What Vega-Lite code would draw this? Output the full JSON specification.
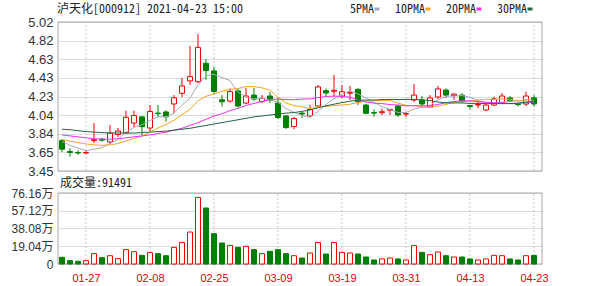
{
"$schema": "https://vega.github.io/schema/vega-lite/v6.json",
"width": 484, "height": 242,
"autosize": {"type": "none"},
"padding": {"left": 58, "top": 22, "right": 58, "bottom": 22},
"background": "white",
"config": {"view": {"stroke": null}, "font": "Liberation Sans"},
"data": {"values": [
{"date":"2021-01-22","open":3.77,"high":3.785,"low":3.65,"close":3.68,"volume":72000,"5PMA":3.76,"10PMA":3.78,"20PMA":3.83,"30PMA":3.89},
{"date":"2021-01-25","open":3.655,"high":3.69,"low":3.60,"close":3.645,"volume":36000,"5PMA":3.72,"10PMA":3.765,"20PMA":3.82,"30PMA":3.885},
{"date":"2021-01-26","open":3.645,"high":3.67,"low":3.62,"close":3.64,"volume":29000,"5PMA":3.69,"10PMA":3.75,"20PMA":3.81,"30PMA":3.875},
{"date":"2021-01-27","open":3.64,"high":3.67,"low":3.63,"close":3.645,"volume":36000,"5PMA":3.665,"10PMA":3.735,"20PMA":3.80,"30PMA":3.865},
{"date":"2021-01-28","open":3.77,"high":3.956,"low":3.745,"close":3.78,"volume":111000,"5PMA":3.679,"10PMA":3.725,"20PMA":3.79,"30PMA":3.86},
{"date":"2021-01-29","open":3.785,"high":3.80,"low":3.76,"close":3.775,"volume":68000,"5PMA":3.697,"10PMA":3.72,"20PMA":3.785,"30PMA":3.855},
{"date":"2021-02-01","open":3.756,"high":3.935,"low":3.735,"close":3.85,"volume":89000,"5PMA":3.739,"10PMA":3.725,"20PMA":3.785,"30PMA":3.85},
{"date":"2021-02-02","open":3.835,"high":3.903,"low":3.808,"close":3.871,"volume":57000,"5PMA":3.785,"10PMA":3.74,"20PMA":3.79,"30PMA":3.85},
{"date":"2021-02-03","open":3.853,"high":4.085,"low":3.84,"close":4.016,"volume":154000,"5PMA":3.859,"10PMA":3.765,"20PMA":3.80,"30PMA":3.85},
{"date":"2021-02-04","open":3.956,"high":4.085,"low":3.914,"close":4.035,"volume":132000,"5PMA":3.910,"10PMA":3.795,"20PMA":3.81,"30PMA":3.85},
{"date":"2021-02-05","open":4.02,"high":4.03,"low":3.83,"close":3.917,"volume":93000,"5PMA":3.938,"10PMA":3.817,"20PMA":3.82,"30PMA":3.855},
{"date":"2021-02-08","open":3.903,"high":4.145,"low":3.87,"close":4.077,"volume":122000,"5PMA":3.983,"10PMA":3.861,"20PMA":3.83,"30PMA":3.86},
{"date":"2021-02-09","open":4.06,"high":4.145,"low":4.02,"close":4.055,"volume":111000,"5PMA":4.02,"10PMA":3.903,"20PMA":3.845,"30PMA":3.865},
{"date":"2021-02-10","open":4.072,"high":4.09,"low":3.97,"close":4.022,"volume":89000,"5PMA":4.021,"10PMA":3.940,"20PMA":3.86,"30PMA":3.87},
{"date":"2021-02-18","open":4.156,"high":4.25,"low":4.06,"close":4.222,"volume":179000,"5PMA":4.059,"10PMA":3.985,"20PMA":3.88,"30PMA":3.88},
{"date":"2021-02-19","open":4.269,"high":4.43,"low":4.23,"close":4.346,"volume":232000,"5PMA":4.144,"10PMA":4.041,"20PMA":3.90,"30PMA":3.89},
{"date":"2021-02-22","open":4.40,"high":4.767,"low":4.356,"close":4.444,"volume":343000,"5PMA":4.218,"10PMA":4.101,"20PMA":3.93,"30PMA":3.90},
{"date":"2021-02-23","open":4.391,"high":4.894,"low":4.377,"close":4.753,"volume":715000,"5PMA":4.357,"10PMA":4.189,"20PMA":3.96,"30PMA":3.915},
{"date":"2021-02-24","open":4.585,"high":4.63,"low":4.41,"close":4.509,"volume":601000,"5PMA":4.455,"10PMA":4.238,"20PMA":3.995,"30PMA":3.93},
{"date":"2021-02-25","open":4.504,"high":4.546,"low":4.26,"close":4.288,"volume":325000,"5PMA":4.468,"10PMA":4.263,"20PMA":4.029,"30PMA":3.945},
{"date":"2021-02-26","open":4.20,"high":4.25,"low":4.13,"close":4.18,"volume":225000,"5PMA":4.435,"10PMA":4.290,"20PMA":4.054,"30PMA":3.96},
{"date":"2021-03-01","open":4.187,"high":4.32,"low":4.17,"close":4.287,"volume":200000,"5PMA":4.403,"10PMA":4.311,"20PMA":4.086,"30PMA":3.975},
{"date":"2021-03-02","open":4.293,"high":4.32,"low":4.12,"close":4.135,"volume":179000,"5PMA":4.280,"10PMA":4.319,"20PMA":4.111,"30PMA":3.99},
{"date":"2021-03-03","open":4.166,"high":4.325,"low":4.156,"close":4.24,"volume":190000,"5PMA":4.226,"10PMA":4.340,"20PMA":4.140,"30PMA":4.005},
{"date":"2021-03-04","open":4.25,"high":4.325,"low":4.19,"close":4.208,"volume":154000,"5PMA":4.21,"10PMA":4.339,"20PMA":4.162,"30PMA":4.02},
{"date":"2021-03-05","open":4.182,"high":4.25,"low":4.166,"close":4.214,"volume":111000,"5PMA":4.217,"10PMA":4.326,"20PMA":4.183,"30PMA":4.03},
{"date":"2021-03-08","open":4.24,"high":4.283,"low":4.166,"close":4.198,"volume":136000,"5PMA":4.199,"10PMA":4.301,"20PMA":4.201,"30PMA":4.04},
{"date":"2021-03-09","open":4.166,"high":4.22,"low":3.998,"close":4.014,"volume":154000,"5PMA":4.175,"10PMA":4.227,"20PMA":4.208,"30PMA":4.05},
{"date":"2021-03-10","open":4.03,"high":4.04,"low":3.893,"close":3.908,"volume":111000,"5PMA":4.108,"10PMA":4.167,"20PMA":4.203,"30PMA":4.06},
{"date":"2021-03-11","open":3.919,"high":4.022,"low":3.89,"close":4.003,"volume":89000,"5PMA":4.067,"10PMA":4.139,"20PMA":4.201,"30PMA":4.066},
{"date":"2021-03-12","open":4.06,"high":4.075,"low":4.005,"close":4.05,"volume":64000,"5PMA":4.035,"10PMA":4.126,"20PMA":4.208,"30PMA":4.078},
{"date":"2021-03-15","open":4.03,"high":4.145,"low":4.02,"close":4.098,"volume":118000,"5PMA":4.015,"10PMA":4.107,"20PMA":4.209,"30PMA":4.093},
{"date":"2021-03-16","open":4.135,"high":4.356,"low":4.125,"close":4.336,"volume":232000,"5PMA":4.079,"10PMA":4.127,"20PMA":4.223,"30PMA":4.116},
{"date":"2021-03-17","open":4.296,"high":4.32,"low":4.235,"close":4.272,"volume":107000,"5PMA":4.152,"10PMA":4.130,"20PMA":4.235,"30PMA":4.137},
{"date":"2021-03-18","open":4.29,"high":4.462,"low":4.235,"close":4.30,"volume":232000,"5PMA":4.211,"10PMA":4.139,"20PMA":4.239,"30PMA":4.154},
{"date":"2021-03-19","open":4.24,"high":4.356,"low":4.216,"close":4.285,"volume":125000,"5PMA":4.258,"10PMA":4.146,"20PMA":4.236,"30PMA":4.171},
{"date":"2021-03-22","open":4.27,"high":4.346,"low":4.198,"close":4.275,"volume":118000,"5PMA":4.294,"10PMA":4.154,"20PMA":4.228,"30PMA":4.185},
{"date":"2021-03-23","open":4.311,"high":4.32,"low":4.145,"close":4.18,"volume":107000,"5PMA":4.262,"10PMA":4.171,"20PMA":4.199,"30PMA":4.196},
{"date":"2021-03-24","open":4.145,"high":4.16,"low":4.047,"close":4.058,"volume":75000,"5PMA":4.220,"10PMA":4.186,"20PMA":4.176,"30PMA":4.197},
{"date":"2021-03-25","open":4.065,"high":4.10,"low":4.02,"close":4.06,"volume":43000,"5PMA":4.172,"10PMA":4.191,"20PMA":4.165,"30PMA":4.198},
{"date":"2021-03-26","open":4.065,"high":4.11,"low":4.04,"close":4.075,"volume":54000,"5PMA":4.130,"10PMA":4.194,"20PMA":4.160,"30PMA":4.203},
{"date":"2021-03-29","open":4.09,"high":4.10,"low":4.04,"close":4.10,"volume":64000,"5PMA":4.095,"10PMA":4.194,"20PMA":4.150,"30PMA":4.204},
{"date":"2021-03-30","open":4.135,"high":4.145,"low":4.02,"close":4.04,"volume":54000,"5PMA":4.067,"10PMA":4.165,"20PMA":4.146,"30PMA":4.203},
{"date":"2021-03-31","open":4.05,"high":4.075,"low":4.02,"close":4.055,"volume":43000,"5PMA":4.066,"10PMA":4.143,"20PMA":4.136,"30PMA":4.204},
{"date":"2021-04-01","open":4.198,"high":4.367,"low":4.177,"close":4.25,"volume":197000,"5PMA":4.104,"10PMA":4.138,"20PMA":4.139,"30PMA":4.205},
{"date":"2021-04-02","open":4.198,"high":4.24,"low":4.135,"close":4.156,"volume":125000,"5PMA":4.120,"10PMA":4.125,"20PMA":4.136,"30PMA":4.199},
{"date":"2021-04-06","open":4.124,"high":4.25,"low":4.114,"close":4.22,"volume":100000,"5PMA":4.144,"10PMA":4.119,"20PMA":4.137,"30PMA":4.192},
{"date":"2021-04-07","open":4.23,"high":4.346,"low":4.209,"close":4.314,"volume":129000,"5PMA":4.199,"10PMA":4.133,"20PMA":4.152,"30PMA":4.177},
{"date":"2021-04-08","open":4.303,"high":4.32,"low":4.22,"close":4.25,"volume":89000,"5PMA":4.238,"10PMA":4.152,"20PMA":4.169,"30PMA":4.168},
{"date":"2021-04-09","open":4.245,"high":4.27,"low":4.20,"close":4.26,"volume":75000,"5PMA":4.24,"10PMA":4.172,"20PMA":4.182,"30PMA":4.167},
{"date":"2021-04-12","open":4.25,"high":4.27,"low":4.166,"close":4.182,"volume":75000,"5PMA":4.245,"10PMA":4.183,"20PMA":4.188,"30PMA":4.167},
{"date":"2021-04-13","open":4.14,"high":4.14,"low":4.10,"close":4.13,"volume":54000,"5PMA":4.227,"10PMA":4.186,"20PMA":4.190,"30PMA":4.162},
{"date":"2021-04-14","open":4.145,"high":4.18,"low":4.11,"close":4.15,"volume":43000,"5PMA":4.194,"10PMA":4.197,"20PMA":4.181,"30PMA":4.163},
{"date":"2021-04-15","open":4.093,"high":4.156,"low":4.08,"close":4.145,"volume":54000,"5PMA":4.173,"10PMA":4.206,"20PMA":4.174,"30PMA":4.160},
{"date":"2021-04-16","open":4.145,"high":4.233,"low":4.135,"close":4.209,"volume":93000,"5PMA":4.163,"10PMA":4.202,"20PMA":4.170,"30PMA":4.160},
{"date":"2021-04-19","open":4.172,"high":4.27,"low":4.166,"close":4.24,"volume":89000,"5PMA":4.175,"10PMA":4.21,"20PMA":4.167,"30PMA":4.160},
{"date":"2021-04-20","open":4.22,"high":4.24,"low":4.177,"close":4.188,"volume":54000,"5PMA":4.186,"10PMA":4.207,"20PMA":4.163,"30PMA":4.160},
{"date":"2021-04-21","open":4.16,"high":4.16,"low":4.13,"close":4.15,"volume":43000,"5PMA":4.186,"10PMA":4.190,"20PMA":4.162,"30PMA":4.165},
{"date":"2021-04-22","open":4.156,"high":4.288,"low":4.135,"close":4.24,"volume":89000,"5PMA":4.205,"10PMA":4.189,"20PMA":4.171,"30PMA":4.176},
{"date":"2021-04-23","open":4.22,"high":4.25,"low":4.13,"close":4.156,"volume":91491,"5PMA":4.195,"10PMA":4.179,"20PMA":4.176,"30PMA":4.181}
]},
"layer": [
{
"layer": [
{"transform": [{"filter": {"field": "date", "oneOf": ["2021-01-27","2021-02-08","2021-02-25","2021-03-09","2021-03-19","2021-03-31","2021-04-13","2021-04-23"]}}],
 "mark": {"type": "rule", "color": "#c4c4c4", "strokeDash": [2, 2], "strokeWidth": 1},
 "encoding": {
  "x": {"field": "date", "type": "ordinal", "title": null, "scale": {"type": "point", "padding": 0.75, "align": 0.3333}, "axis": {"values": ["2021-01-27","2021-02-08","2021-02-25","2021-03-09","2021-03-19","2021-03-31","2021-04-13","2021-04-23"], "labelExpr": "substring(datum.value, 5)", "labelColor": "#e00000", "labelFont": "Liberation Sans", "labelFontSize": 11, "labelPadding": 8, "ticks": false, "domain": false, "grid": false, "labelAngle": 0, "labelOverlap": false}},
  "y": {"datum": 3.45, "type": "quantitative", "title": null, "scale": {"domain": [2.4701, 5.02], "zero": false, "nice": false}, "axis": {"orient": "left", "values": [3.45,3.65,3.84,4.04,4.23,4.43,4.63,4.82,5.02], "tickCount": 30, "format": ".2f", "grid": true, "gridColor": "#dcdcdc", "domain": false, "ticks": false, "labelPadding": 5, "labelFont": "Liberation Sans", "labelFontSize": 13, "labelColor": "#333333", "labelOverlap": false, "labelBound": false}},
  "y2": {"datum": 5.02}
 }},
{"data": {"values": [{"panel": "price"}]},
 "mark": {"type": "rect", "filled": false, "stroke": "#a6a6a6", "strokeWidth": 1},
 "encoding": {
  "y": {"datum": 5.02, "type": "quantitative", "title": null, "scale": {"domain": [2.4701, 5.02], "zero": false, "nice": false}},
  "y2": {"datum": 3.45}
 }},
{"mark": {"type": "rule", "strokeWidth": 1},
 "encoding": {
  "x": {"field": "date", "type": "ordinal", "title": null, "scale": {"type": "point", "padding": 0.75, "align": 0.3333}},
  "y": {"field": "low", "type": "quantitative", "title": null, "scale": {"domain": [2.4701, 5.02], "zero": false, "nice": false}},
  "y2": {"field": "high"},
  "color": {"condition": {"test": "datum.close >= datum.open", "value": "#f00000"}, "value": "#007f00"}
 }},
{"mark": {"type": "bar", "width": 5, "strokeWidth": 1},
 "encoding": {
  "x": {"field": "date", "type": "ordinal", "title": null, "scale": {"type": "point", "padding": 0.75, "align": 0.3333}},
  "y": {"field": "open", "type": "quantitative", "title": null, "scale": {"domain": [2.4701, 5.02], "zero": false, "nice": false}},
  "y2": {"field": "close"},
  "fill": {"condition": {"test": "datum.close >= datum.open", "value": "#ffffff"}, "value": "#007f00"},
  "stroke": {"condition": {"test": "datum.close >= datum.open", "value": "#f00000"}, "value": "#007f00"}
 }},
{"transform": [{"fold": ["5PMA", "10PMA", "20PMA", "30PMA"], "as": ["ma", "value"]}],
 "mark": {"type": "line", "strokeWidth": 1},
 "encoding": {
  "x": {"field": "date", "type": "ordinal", "title": null, "scale": {"type": "point", "padding": 0.75, "align": 0.3333}},
  "y": {"field": "value", "type": "quantitative", "title": null, "scale": {"domain": [2.4701, 5.02], "zero": false, "nice": false}},
  "color": {"field": "ma", "type": "nominal", "scale": {"domain": ["5PMA", "10PMA", "20PMA", "30PMA"], "range": ["#a8a8b8", "#f5a524", "#ee33ee", "#226644"]},
   "legend": {"orient": "none", "legendX": 313, "legendY": -19, "direction": "horizontal", "title": null, "labelAlign": "right", "labelOffset": -9, "symbolType": "stroke", "symbolSize": 25, "symbolStrokeWidth": 3, "labelFont": "Noto Sans Mono CJK SC, Noto Sans CJK SC", "labelFontSize": 12, "labelColor": "#222222", "columnPadding": 8}}
 }},
{"data": {"values": [{"label": "泸天化[000912] 2021-04-23 15:00"}]},
 "mark": {"type": "text", "align": "left", "baseline": "middle", "dx": -5, "font": "Noto Sans Mono CJK SC, Noto Sans CJK SC", "fontSize": 12, "color": "#222222"},
 "encoding": {
  "x": {"datum": "2021-01-22", "type": "ordinal", "title": null, "scale": {"type": "point", "padding": 0.75, "align": 0.3333}},
  "y": {"datum": 5.157, "type": "quantitative", "title": null, "scale": {"domain": [2.4701, 5.02], "zero": false, "nice": false}},
  "text": {"field": "label"}
 }}
]
},
{
"layer": [
{"transform": [{"filter": {"field": "date", "oneOf": ["2021-01-27","2021-02-08","2021-02-25","2021-03-09","2021-03-19","2021-03-31","2021-04-13","2021-04-23"]}}],
 "mark": {"type": "rule", "color": "#c4c4c4", "strokeDash": [2, 2], "strokeWidth": 1},
 "encoding": {
  "x": {"field": "date", "type": "ordinal", "title": null, "scale": {"type": "point", "padding": 0.75, "align": 0.3333}},
  "y": {"datum": 0, "type": "quantitative", "title": null, "scale": {"domain": [0, 2595876], "nice": false}, "axis": {"orient": "left", "values": [0, 190400, 380800, 571200, 761600], "tickCount": 30, "labelExpr": "datum.value == 0 ? '0' : format(datum.value / 10000, '.2f') + '万'", "grid": true, "gridColor": "#dcdcdc", "domain": false, "ticks": false, "labelPadding": 5, "labelFont": "Liberation Sans, Noto Sans CJK SC", "labelFontSize": 12, "labelColor": "#333333", "labelOverlap": false, "labelBound": false}},
  "y2": {"datum": 761600}
 }},
{"data": {"values": [{"panel": "volume"}]},
 "mark": {"type": "rect", "filled": false, "stroke": "#a6a6a6", "strokeWidth": 1},
 "encoding": {
  "y": {"datum": 761600, "type": "quantitative", "title": null, "scale": {"domain": [0, 2595876], "nice": false}},
  "y2": {"datum": 0}
 }},
{"mark": {"type": "bar", "width": 5, "strokeWidth": 1},
 "encoding": {
  "x": {"field": "date", "type": "ordinal", "title": null, "scale": {"type": "point", "padding": 0.75, "align": 0.3333}},
  "y": {"field": "volume", "type": "quantitative", "title": null, "scale": {"domain": [0, 2595876], "nice": false}},
  "fill": {"condition": {"test": "datum.close >= datum.open", "value": "#ffffff"}, "value": "#007f00"},
  "stroke": {"condition": {"test": "datum.close >= datum.open", "value": "#f00000"}, "value": "#007f00"}
 }},
{"data": {"values": [{"label": "成交量:91491"}]},
 "mark": {"type": "text", "align": "left", "baseline": "middle", "dx": -2, "font": "Noto Sans Mono CJK SC, Noto Sans CJK SC", "fontSize": 12, "color": "#222222"},
 "encoding": {
  "x": {"datum": "2021-01-22", "type": "ordinal", "title": null, "scale": {"type": "point", "padding": 0.75, "align": 0.3333}},
  "y": {"datum": 870000, "type": "quantitative", "title": null, "scale": {"domain": [0, 2595876], "nice": false}},
  "text": {"field": "label"}
 }}
]
}
],
"resolve": {"scale": {"y": "independent"}, "axis": {"y": "independent"}}
}
